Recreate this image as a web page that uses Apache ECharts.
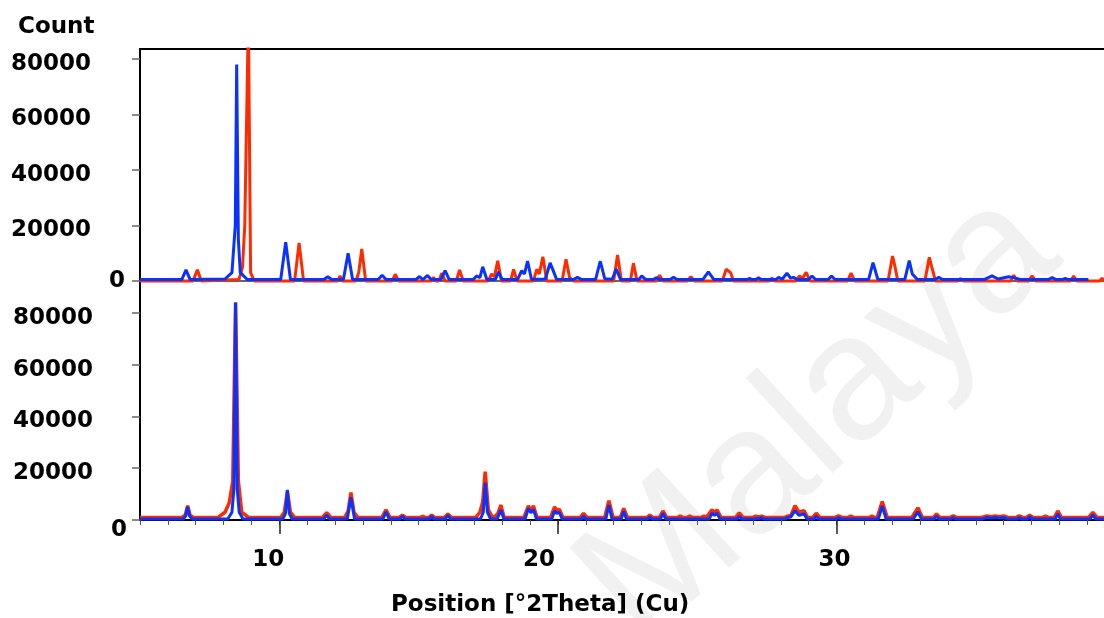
<!DOCTYPE html>
<html>
<head>
<meta charset="utf-8">
<script src="https://cdn.jsdelivr.net/npm/echarts@6/dist/echarts.min.js"></script>
<style>
  html, body { margin: 0; padding: 0; background: #fff; }
  #chart { width: 1104px; height: 618px; }
</style>
</head>
<body>
<div id="chart"></div>
<script>
// tick labels
const yTicks = [0, 20000, 40000, 60000, 80000]
const xMajorTicks = [10, 20, 30]

// upper pattern: [2theta, counts]
const topRed = [
  [5, 0],
  [6.9, 0], [7.06, 4000], [7.2, 0],
  [8.55, 500], [8.68, 5000], [8.76, 20000], [8.89, 95000], [8.97, 3000], [9.1, 0],
  [10.55, 0], [10.71, 13700], [10.87, 0],
  [12.1, 0], [12.18, 1800], [12.26, 0],
  [12.75, 0], [12.85, 3000], [12.96, 11500], [13.1, 0],
  [14.05, 0], [14.16, 2400], [14.28, 0],
  [15.45, 0], [15.53, 1300], [15.62, 0],
  [15.73, 0], [15.83, 2800], [15.95, 0],
  [16.35, 0], [16.47, 4000], [16.6, 0],
  [17.5, 0], [17.62, 2500], [17.72, 1500], [17.84, 7300], [17.97, 0],
  [18.3, 0], [18.41, 4200], [18.53, 0],
  [19.12, 0], [19.24, 4200], [19.33, 2500], [19.46, 8700], [19.6, 0],
  [20.15, 0], [20.29, 7800], [20.42, 1200], [20.55, 0],
  [22.0, 0], [22.14, 9400], [22.28, 0],
  [22.6, 0], [22.71, 6400], [22.84, 0],
  [23.53, 0], [23.65, 2100], [23.77, 0],
  [24.65, 0], [24.77, 1500], [24.9, 0],
  [25.9, 0], [26.04, 4200], [26.2, 3000], [26.3, 0],
  [27.58, 0], [27.68, 1000], [27.78, 0],
  [28.55, 0], [28.67, 1800], [28.78, 1000], [28.91, 3100], [29.05, 0],
  [30.4, 0], [30.52, 2800], [30.65, 0],
  [31.85, 0], [32.01, 9000], [32.08, 6000], [32.2, 0],
  [33.17, 0], [33.33, 8500], [33.42, 5000], [33.55, 0],
  [34.35, 0], [34.44, 900], [34.55, 0],
  [36.25, 0], [36.36, 2100], [36.48, 0],
  [36.9, 0], [37.02, 1800], [37.15, 0],
  [38.4, 0], [38.51, 1800], [38.62, 0],
  [39.45, 0], [39.53, 1000], [39.6, 0]
]

const topBlue = [
  [5, 500],
  [6.5, 500], [6.65, 4000], [6.8, 500],
  [8.05, 700], [8.3, 3000], [8.42, 20000], [8.47, 78000], [8.53, 15000], [8.6, 3000], [8.85, 500],
  [10.05, 500], [10.23, 14000], [10.4, 500],
  [11.6, 500], [11.74, 1500], [11.88, 500],
  [12.3, 500], [12.47, 10000], [12.63, 500],
  [13.55, 500], [13.69, 2100], [13.83, 500],
  [14.9, 500], [15.03, 1600], [15.15, 500], [15.2, 500], [15.32, 2000], [15.45, 500],
  [15.8, 500], [15.95, 3700], [16.1, 500],
  [16.95, 500], [17.09, 1800], [17.2, 1200], [17.3, 5100], [17.45, 500],
  [17.75, 500], [17.87, 3300], [18.0, 500],
  [18.55, 500], [18.7, 3700], [18.8, 2500], [18.91, 7200], [19.05, 600],
  [19.55, 700], [19.72, 6500], [19.82, 4000], [19.95, 600],
  [20.55, 500], [20.7, 1300], [20.85, 500],
  [21.35, 500], [21.52, 7100], [21.68, 800], [21.95, 600], [22.09, 4300], [22.25, 500],
  [22.9, 500], [23.01, 1800], [23.15, 500],
  [23.43, 500], [23.53, 1200], [23.65, 500],
  [24.03, 500], [24.15, 1300], [24.27, 500],
  [25.2, 500], [25.4, 3300], [25.6, 500],
  [26.8, 500], [26.88, 900], [26.96, 500],
  [27.1, 500], [27.2, 1100], [27.3, 500],
  [27.82, 500], [27.92, 1300], [28.05, 600], [28.22, 2800], [28.35, 1000], [28.45, 1300], [28.6, 500],
  [29.0, 500], [29.12, 1800], [29.25, 500],
  [29.7, 500], [29.82, 1800], [29.95, 500],
  [31.15, 500], [31.31, 6600], [31.48, 600],
  [32.45, 500], [32.61, 7300], [32.72, 2500], [32.9, 500],
  [33.55, 500], [33.67, 1300], [33.8, 500],
  [35.3, 500], [35.58, 1800], [35.8, 700], [36.18, 1500], [36.35, 1200], [36.6, 500],
  [37.6, 500], [37.74, 1200], [37.88, 500],
  [38.1, 500], [38.21, 900], [38.3, 500],
  [39.04, 500]
]

// lower pattern
const bottomRed = [
  [5, 1000],
  [6.5, 1000], [6.62, 1800], [6.71, 5500], [6.8, 1800], [6.92, 1000],
  [7.8, 1000], [8.05, 3000], [8.2, 6600], [8.33, 15000], [8.43, 84000], [8.53, 15000], [8.65, 3000], [8.9, 1000],
  [10.05, 1000], [10.18, 3000], [10.29, 11000], [10.4, 3000], [10.55, 1000],
  [11.55, 1000], [11.7, 2800], [11.85, 1000],
  [12.35, 1000], [12.47, 3500], [12.57, 10600], [12.68, 3000], [12.82, 1000],
  [13.68, 1000], [13.83, 3900], [13.97, 1000],
  [14.3, 1000], [14.42, 1900], [14.54, 1000],
  [15.05, 1000], [15.15, 1400], [15.25, 1000],
  [15.37, 1000], [15.47, 1900], [15.57, 1000],
  [15.92, 1000], [16.05, 2300], [16.18, 1000],
  [17.05, 1000], [17.2, 3000], [17.3, 7000], [17.39, 18700], [17.5, 4000], [17.65, 1000],
  [17.75, 1500], [17.85, 2600], [17.95, 5800], [18.07, 1000],
  [18.78, 1000], [18.94, 5500], [19.03, 3500], [19.12, 5500], [19.25, 1000],
  [19.74, 1000], [19.88, 5100], [19.96, 3600], [20.05, 4200], [20.18, 1000],
  [20.8, 1000], [20.92, 2600], [21.04, 1000],
  [21.68, 1000], [21.83, 7500], [21.98, 1000],
  [22.24, 1000], [22.36, 4500], [22.5, 1000],
  [23.2, 1000], [23.3, 1900], [23.4, 1000],
  [23.65, 1000], [23.77, 3500], [23.9, 1000],
  [24.3, 1000], [24.39, 1500], [24.48, 1000],
  [24.64, 1000], [24.73, 1500], [24.82, 1000],
  [25.15, 1000], [25.24, 1500], [25.33, 1000],
  [25.4, 1000], [25.53, 3900], [25.62, 3000], [25.71, 3900], [25.85, 1000],
  [26.38, 1000], [26.51, 2800], [26.64, 1000],
  [27.0, 1000], [27.1, 1500], [27.2, 1200], [27.31, 1500], [27.42, 1000],
  [28.14, 1000], [28.24, 1500], [28.36, 1800], [28.51, 5500], [28.65, 3000], [28.83, 3600], [28.96, 1000],
  [29.15, 1000], [29.27, 2600], [29.4, 1000],
  [29.95, 1000], [30.07, 1600], [30.2, 1000],
  [30.42, 1000], [30.51, 1500], [30.6, 1000],
  [31.18, 1000], [31.27, 1500], [31.36, 1000],
  [31.46, 1000], [31.64, 7100], [31.82, 1000],
  [32.7, 1000], [32.82, 3000], [32.92, 4700], [33.08, 1000],
  [33.47, 1000], [33.59, 2300], [33.71, 1000],
  [34.08, 1000], [34.19, 1600], [34.3, 1000],
  [35.2, 1000], [35.4, 1600], [35.55, 1300], [35.7, 1600], [35.85, 1300], [36.0, 1600], [36.15, 1000],
  [36.45, 1000], [36.56, 1600], [36.67, 1000],
  [36.82, 1000], [36.93, 1900], [37.05, 1000],
  [37.4, 1000], [37.5, 1500], [37.6, 1000],
  [37.82, 1000], [37.94, 3500], [38.07, 1000],
  [39.05, 1000], [39.2, 3000], [39.35, 1000],
  [39.6, 1000]
]

const bottomBlue = [
  [5, 400],
  [6.55, 400], [6.64, 1500], [6.71, 5100], [6.78, 1500], [6.87, 400],
  [8.15, 400], [8.3, 3000], [8.37, 12000], [8.43, 84000], [8.49, 12000], [8.56, 3000], [8.7, 400],
  [10.12, 400], [10.22, 2500], [10.29, 11600], [10.36, 2500], [10.46, 400],
  [11.6, 400], [11.7, 1900], [11.8, 400],
  [12.44, 400], [12.57, 8800], [12.7, 400],
  [13.72, 400], [13.83, 3200], [13.94, 400],
  [14.33, 400], [14.42, 1500], [14.51, 400],
  [15.08, 400], [15.15, 900], [15.22, 400],
  [15.4, 400], [15.47, 1500], [15.54, 400],
  [15.95, 400], [16.05, 1800], [16.15, 400],
  [17.22, 400], [17.32, 3000], [17.39, 14400], [17.47, 3000], [17.58, 400],
  [17.82, 400], [17.95, 3900], [18.06, 400],
  [18.82, 400], [18.94, 4500], [19.03, 2800], [19.12, 4100], [19.23, 400],
  [19.78, 400], [19.88, 3600], [19.96, 2500], [20.05, 3000], [20.15, 400],
  [20.84, 400], [20.92, 1500], [21.0, 400],
  [21.72, 400], [21.83, 5800], [21.94, 400],
  [22.27, 400], [22.36, 3400], [22.46, 400],
  [23.22, 400], [23.3, 1200], [23.38, 400],
  [23.68, 400], [23.77, 2600], [23.87, 400],
  [24.32, 400], [24.39, 900], [24.46, 400],
  [24.66, 400], [24.73, 900], [24.8, 400],
  [25.17, 400], [25.24, 900], [25.31, 400],
  [25.43, 400], [25.53, 2600], [25.62, 1800], [25.71, 2600], [25.82, 400],
  [26.42, 400], [26.51, 1500], [26.6, 400],
  [27.03, 400], [27.1, 900], [27.2, 600], [27.31, 900], [27.4, 400],
  [28.16, 400], [28.24, 1000], [28.36, 1200], [28.51, 3600], [28.65, 1800], [28.83, 2400], [28.94, 400],
  [29.18, 400], [29.27, 1500], [29.36, 400],
  [29.98, 400], [30.07, 1000], [30.16, 400],
  [30.44, 400], [30.51, 900], [30.58, 400],
  [31.2, 400], [31.27, 900], [31.34, 400],
  [31.5, 400], [31.64, 5400], [31.78, 400],
  [32.75, 400], [32.85, 2000], [32.92, 3200], [33.05, 400],
  [33.5, 400], [33.59, 1500], [33.68, 400],
  [34.1, 400], [34.19, 1000], [34.28, 400],
  [35.25, 400], [35.4, 1000], [35.55, 800], [35.7, 1000], [35.85, 800], [36.0, 1000], [36.12, 400],
  [36.48, 400], [36.56, 1000], [36.64, 400],
  [36.85, 400], [36.93, 1300], [37.02, 400],
  [37.43, 400], [37.5, 900], [37.57, 400],
  [37.85, 400], [37.94, 2300], [38.04, 400],
  [39.1, 400], [39.2, 2000], [39.3, 400],
  [39.6, 400]
]

const RED = '#ff2a00'
const BLUE = '#0a32ff'
const FONT = 'DejaVu Sans'
const X_MIN = 5
const X_MAX = 39.6

const labelFont = { fontFamily: FONT, fontWeight: 'bold', fontSize: 23, color: '#000' }

// y labels sit a bit left of the ticks, the zero one closer to the axis
const yLabel = (zeroPad) => ({
  show: true,
  customValues: yTicks,
  margin: 15,
  formatter: (v) => v === 0 ? '{z|0}' : '{n|' + v + '}',
  rich: {
    n: Object.assign({ padding: [10, 34, 0, 0] }, labelFont),
    z: Object.assign({ padding: zeroPad }, labelFont)
  }
})

const yTick = {
  show: true,
  customValues: yTicks,
  length: 8,
  lineStyle: { color: '#666', width: 1.5 }
}

const xLabelKey = { 10: 'a', 20: 'b', 30: 'c' }

const option = {
  animation: false,
  backgroundColor: '#fff',
  title: [
    { text: 'Count', left: 13, top: 11, textStyle: labelFont },
    { text: 'Position [°2Theta] (Cu)', left: 386, top: 589, textStyle: labelFont }
  ],
  // faint watermark behind the patterns
  graphic: [{
    type: 'text',
    x: 820,
    y: 418,
    rotation: 0.74,
    z: -10,
    silent: true,
    style: {
      text: 'Malaya',
      font: '178px "Liberation Sans"',
      fill: '#f1f1f1',
      align: 'center',
      verticalAlign: 'middle'
    }
  }],
  grid: [
    { left: 140, right: 0, top: 49, height: 235 },
    { left: 140, right: 0, top: 284, height: 236 }
  ],
  xAxis: [
    // upper panel, bottom line
    {
      type: 'value', gridIndex: 0, min: X_MIN, max: X_MAX,
      axisLine: { lineStyle: { color: '#333', width: 1.5 } },
      axisTick: { show: false }, axisLabel: { show: false }, splitLine: { show: false }
    },
    // upper panel, top border
    {
      type: 'value', gridIndex: 0, position: 'top', min: X_MIN, max: X_MAX,
      axisLine: { lineStyle: { color: '#000', width: 2 } },
      axisTick: { show: false }, axisLabel: { show: false }, splitLine: { show: false }
    },
    // lower panel, minor ticks every degree
    {
      type: 'value', gridIndex: 1, min: X_MIN, max: X_MAX, interval: 1,
      axisLine: { onZero: false, lineStyle: { color: '#000', width: 2 } },
      axisTick: { length: 5, lineStyle: { color: '#555', width: 1 } },
      axisLabel: { show: false }, splitLine: { show: false }
    },
    // lower panel, major ticks and labels
    {
      type: 'value', gridIndex: 1, min: X_MIN, max: X_MAX, position: 'bottom',
      axisLine: { show: false },
      axisTick: { customValues: xMajorTicks, length: 14, lineStyle: { color: '#222', width: 1.5 } },
      axisLabel: {
        customValues: xMajorTicks,
        margin: 29,
        formatter: (v) => '{' + xLabelKey[v] + '|' + v + '}',
        rich: {
          a: Object.assign({ padding: [0, 22, 0, 0] }, labelFont),
          b: Object.assign({ padding: [0, 38, 0, 0] }, labelFont),
          c: Object.assign({ padding: [0, 4, 0, 0] }, labelFont)
        }
      },
      splitLine: { show: false }
    }
  ],
  yAxis: [
    {
      type: 'value', gridIndex: 0, min: -1100, max: 83600,
      axisLine: { show: true, lineStyle: { color: '#000', width: 2 } },
      axisTick: yTick,
      axisLabel: yLabel([0, 0, 0, 0]),
      splitLine: { show: false }
    },
    {
      type: 'value', gridIndex: 1, min: 0, max: 91200,
      axisLine: { show: true, lineStyle: { color: '#000', width: 2 } },
      axisTick: yTick,
      axisLabel: Object.assign(yLabel([20, 0, 0, 0]), { margin: 13 }),
      splitLine: { show: false }
    }
  ],
  series: [
    {
      type: 'line', xAxisIndex: 0, yAxisIndex: 0, data: topRed,
      showSymbol: false, lineStyle: { color: RED, width: 3 }
    },
    {
      type: 'line', xAxisIndex: 0, yAxisIndex: 0, data: topBlue,
      showSymbol: false, lineStyle: { color: BLUE, width: 3 }
    },
    {
      type: 'line', xAxisIndex: 2, yAxisIndex: 1, data: bottomRed,
      showSymbol: false, lineStyle: { color: RED, width: 3.5 }
    },
    {
      type: 'line', xAxisIndex: 2, yAxisIndex: 1, data: bottomBlue,
      showSymbol: false, lineStyle: { color: BLUE, width: 3 }
    }
  ]
}

const myChart = echarts.init(document.getElementById('chart'))
myChart.setOption(option)
</script>
</body>
</html>
